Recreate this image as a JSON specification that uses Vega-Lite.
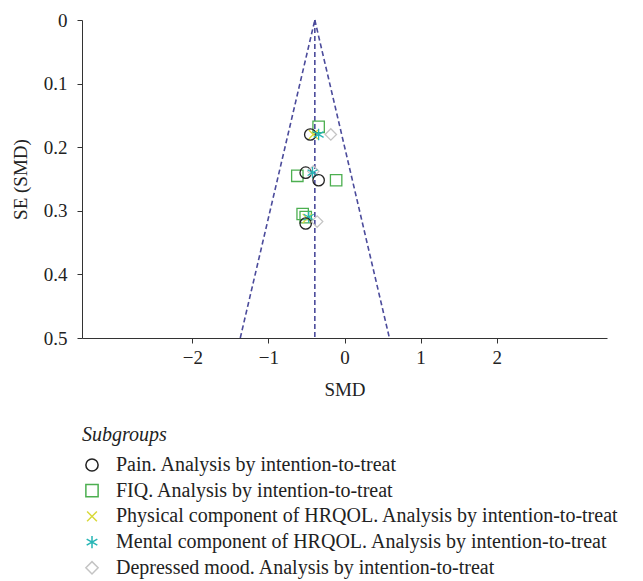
{
  "$schema": "https://vega.github.io/schema/vega-lite/v6.json",
  "autosize": "none",
  "padding": {"left": 82, "top": 20, "right": 36, "bottom": 243},
  "width": 525,
  "height": 318,
  "background": "white",
  "config": {
    "view": {"stroke": null},
    "font": "Liberation Serif",
    "axis": {
      "grid": false,
      "domainColor": "#333333",
      "tickColor": "#333333",
      "labelColor": "#222222",
      "titleColor": "#222222",
      "labelFont": "Liberation Serif",
      "titleFont": "Liberation Serif",
      "labelFontSize": 19,
      "titleFontSize": 19,
      "titleFontWeight": "normal",
      "tickSize": 5
    }
  },
  "datasets": {
    "funnel": [
      {"line": "left", "smd": -0.39, "se": 0},
      {"line": "left", "smd": -1.37, "se": 0.5},
      {"line": "right", "smd": -0.39, "se": 0},
      {"line": "right", "smd": 0.59, "se": 0.5},
      {"line": "mid", "smd": -0.39, "se": 0},
      {"line": "mid", "smd": -0.39, "se": 0.5}
    ],
    "studies": [
      {"group": "FIQ. Analysis by intention-to-treat", "smd": -0.34, "se": 0.168},
      {"group": "Physical component of HRQOL. Analysis by intention-to-treat", "smd": -0.41, "se": 0.18},
      {"group": "Pain. Analysis by intention-to-treat", "smd": -0.45, "se": 0.18},
      {"group": "Mental component of HRQOL. Analysis by intention-to-treat", "smd": -0.34, "se": 0.18},
      {"group": "Depressed mood. Analysis by intention-to-treat", "smd": -0.18, "se": 0.18},
      {"group": "FIQ. Analysis by intention-to-treat", "smd": -0.62, "se": 0.245},
      {"group": "Pain. Analysis by intention-to-treat", "smd": -0.51, "se": 0.24},
      {"group": "Depressed mood. Analysis by intention-to-treat", "smd": -0.41, "se": 0.238},
      {"group": "Mental component of HRQOL. Analysis by intention-to-treat", "smd": -0.42, "se": 0.24},
      {"group": "Pain. Analysis by intention-to-treat", "smd": -0.34, "se": 0.252},
      {"group": "FIQ. Analysis by intention-to-treat", "smd": -0.11, "se": 0.252},
      {"group": "FIQ. Analysis by intention-to-treat", "smd": -0.55, "se": 0.305},
      {"group": "FIQ. Analysis by intention-to-treat", "smd": -0.51, "se": 0.31},
      {"group": "Physical component of HRQOL. Analysis by intention-to-treat", "smd": -0.49, "se": 0.312},
      {"group": "Mental component of HRQOL. Analysis by intention-to-treat", "smd": -0.47, "se": 0.31},
      {"group": "Pain. Analysis by intention-to-treat", "smd": -0.51, "se": 0.32},
      {"group": "Depressed mood. Analysis by intention-to-treat", "smd": -0.36, "se": 0.317}
    ]
  },
  "encoding": {
    "x": {
      "field": "smd",
      "type": "quantitative",
      "scale": {"domain": [-3.45, 3.45], "nice": false, "zero": false},
      "axis": {"title": "SMD", "titleFontWeight": "normal", "values": [-2, -1, 0, 1, 2], "labelPadding": 5, "titlePadding": 13}
    },
    "y": {
      "field": "se",
      "type": "quantitative",
      "scale": {"domain": [0, 0.5], "reverse": true, "nice": false},
      "axis": {"title": "SE (SMD)", "titleFontWeight": "normal", "values": [0, 0.1, 0.2, 0.3, 0.4, 0.5], "format": "~g", "labelPadding": 10, "titlePadding": 13}
    }
  },
  "layer": [
    {
      "data": {"name": "funnel"},
      "mark": {"type": "line", "color": "#4b4b9b", "strokeWidth": 1.6, "strokeDash": [5, 3]},
      "encoding": {"detail": {"field": "line"}}
    },
    {
      "data": {"name": "studies"},
      "mark": {"type": "point", "filled": false, "size": 130, "strokeWidth": 1.3, "opacity": 1},
      "encoding": {
        "shape": {
          "field": "group",
          "type": "nominal",
          "scale": {
            "domain": [
              "Pain. Analysis by intention-to-treat",
              "FIQ. Analysis by intention-to-treat",
              "Physical component of HRQOL. Analysis by intention-to-treat",
              "Mental component of HRQOL. Analysis by intention-to-treat",
              "Depressed mood. Analysis by intention-to-treat"
            ],
            "range": [
              "circle",
              "square",
              "M-0.8,-0.8L0.8,0.8M-0.8,0.8L0.8,-0.8",
              "M0,-1L0,1M-0.87,-0.5L0.87,0.5M-0.87,0.5L0.87,-0.5",
              "diamond"
            ]
          },
          "legend": {
            "title": "Subgroups",
            "orient": "none",
            "legendX": 0,
            "legendY": 405,
            "padding": 0,
            "titleFont": "Liberation Serif",
            "titleFontSize": 20,
            "titleFontStyle": "italic",
            "titleFontWeight": "normal",
            "titleColor": "#222222",
            "titlePadding": 10,
            "labelFont": "Liberation Serif",
            "labelFontSize": 20,
            "labelColor": "#222222",
            "labelOffset": 14,
            "labelLimit": 700,
            "symbolSize": 150,
            "symbolStrokeWidth": 1.5,
            "rowPadding": 5.7
          }
        },
        "color": {
          "field": "group",
          "type": "nominal",
          "scale": {
            "domain": [
              "Pain. Analysis by intention-to-treat",
              "FIQ. Analysis by intention-to-treat",
              "Physical component of HRQOL. Analysis by intention-to-treat",
              "Mental component of HRQOL. Analysis by intention-to-treat",
              "Depressed mood. Analysis by intention-to-treat"
            ],
            "range": ["#222222", "#4caf50", "#d9d93a", "#26b5b5", "#c4c4c4"]
          },
          "legend": {
            "title": "Subgroups",
            "orient": "none",
            "legendX": 0,
            "legendY": 405,
            "padding": 0,
            "titleFont": "Liberation Serif",
            "titleFontSize": 20,
            "titleFontStyle": "italic",
            "titleFontWeight": "normal",
            "titleColor": "#222222",
            "titlePadding": 10,
            "labelFont": "Liberation Serif",
            "labelFontSize": 20,
            "labelColor": "#222222",
            "labelOffset": 14,
            "labelLimit": 700,
            "symbolSize": 150,
            "symbolStrokeWidth": 1.5,
            "rowPadding": 5.7
          }
        }
      }
    }
  ]
}
